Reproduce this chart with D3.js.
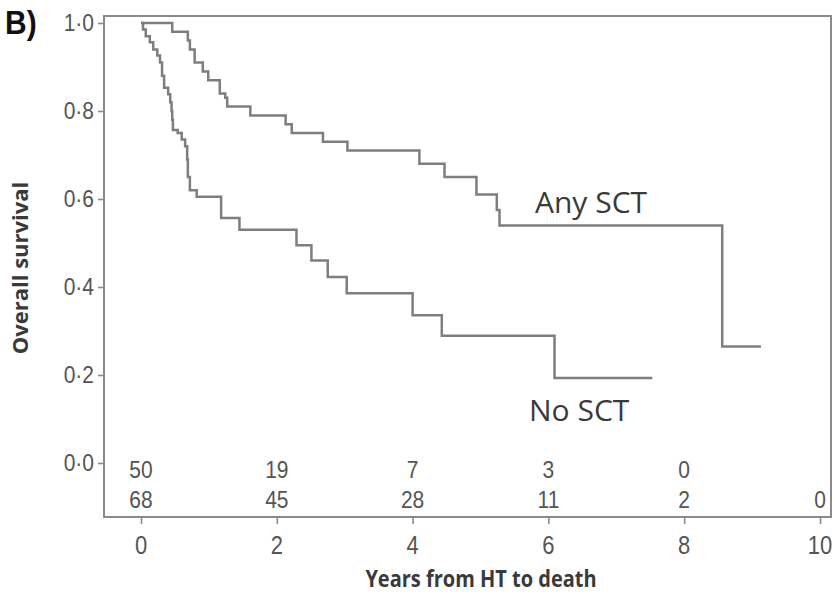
<!DOCTYPE html>
<html>
<head>
<meta charset="utf-8">
<script src="https://cdn.jsdelivr.net/npm/d3@7"></script>
<style>
  html, body { margin: 0; padding: 0; background: #fff; }
  svg { display: block; }
</style>
</head>
<body>
<svg id="chart" width="835" height="597"></svg>
<script>
// Kaplan–Meier overall survival, by stem cell transplant (SCT) status
const sctTimes = [0, 0.46, 0.69, 0.72, 0.79, 0.91, 0.99, 1.16, 1.24, 1.27, 1.61, 2.13, 2.22, 2.68, 3.04, 4.10, 4.47, 4.94, 5.24, 5.28, 8.56, 9.13];
const sctSurv  = [1.0, 0.98, 0.96, 0.94, 0.91, 0.89, 0.87, 0.84, 0.83, 0.81, 0.79, 0.77, 0.75, 0.73, 0.71, 0.68, 0.65, 0.61, 0.575, 0.54, 0.265, 0.265];

const noSctTimes = [0, 0.03, 0.07, 0.13, 0.18, 0.24, 0.28, 0.31, 0.34, 0.40, 0.43, 0.45, 0.46, 0.47, 0.54, 0.60, 0.65, 0.68, 0.69, 0.72, 0.82, 1.18, 1.45, 2.29, 2.51, 2.75, 3.03, 4.00, 4.43, 6.09, 7.53];
const noSctSurv  = [1.0, 0.985, 0.97, 0.956, 0.94, 0.926, 0.91, 0.88, 0.853, 0.838, 0.82, 0.80, 0.78, 0.757, 0.75, 0.735, 0.72, 0.69, 0.65, 0.62, 0.605, 0.557, 0.53, 0.495, 0.46, 0.423, 0.386, 0.336, 0.289, 0.193, 0.193];

// Numbers at risk
const riskTimes = [0, 2, 4, 6, 8, 10];
const riskSct   = ["50", "19", "7", "3", "0"];
const riskNoSct = ["68", "45", "28", "11", "2", "0"];

const xTicks = [0, 2, 4, 6, 8, 10];
const yTicks = [0, 0.2, 0.4, 0.6, 0.8, 1.0];
const yTickLabels = ["0·0", "0·2", "0·4", "0·6", "0·8", "1·0"];

const svg = d3.select("#chart");
const frame = { left: 104, top: 16, right: 831, bottom: 517 };

const x = d3.scaleLinear().domain([0, 10]).range([141, 820]);
const y = d3.scaleLinear().domain([0, 1]).range([463, 23]);

const axisColor = "#8a8a8a";
const lineColor = "#7e7e7e";
const textColor = "#3a3a3a";
const arial = "'Liberation Sans', Arial, sans-serif";
const sans = "'Open Sans', sans-serif";

// text with a slightly taller-than-normal glyph shape
function label(px, py, str, opts) {
  const o = Object.assign({ size: 20, family: arial, weight: "normal", anchor: "start",
                            fill: "#555", sy: 1.15, rotate: 0 }, opts);
  return svg.append("text")
    .attr("transform", `translate(${px},${py}) rotate(${o.rotate}) scale(1,${o.sy})`)
    .attr("text-anchor", o.anchor)
    .attr("fill", o.fill)
    .style("font-family", o.family)
    .style("font-weight", o.weight)
    .style("font-size", o.size + "px")
    .text(str);
}

// plot frame
svg.append("rect")
  .attr("x", frame.left).attr("y", frame.top)
  .attr("width", frame.right - frame.left)
  .attr("height", frame.bottom - frame.top)
  .attr("fill", "none").attr("stroke", axisColor).attr("stroke-width", 2);

// y axis ticks (labels drawn separately so they can be stretched)
const yAxis = d3.axisLeft(y).tickValues(yTicks).tickFormat("").tickSize(6);
const gy = svg.append("g").attr("transform", `translate(${frame.left},0)`).call(yAxis);
gy.select(".domain").remove();
gy.selectAll("line").attr("stroke", axisColor).attr("stroke-width", 1.6);
yTicks.forEach((v, i) => label(94, y(v) + 7.5, yTickLabels[i], { size: 21, anchor: "end" }));

// x axis ticks
const xAxis = d3.axisBottom(x).tickValues(xTicks).tickFormat("").tickSize(7);
const gx = svg.append("g").attr("transform", `translate(0,${frame.bottom})`).call(xAxis);
gx.select(".domain").remove();
gx.selectAll("line").attr("stroke", axisColor).attr("stroke-width", 1.6);
xTicks.forEach(v => label(x(v), 554, String(v), { size: 22, anchor: "middle", sy: 1.2 }));

// survival step curves
const step = d3.line().x(d => x(d[0])).y(d => y(d[1])).curve(d3.curveStepAfter);
const curves = [
  d3.zip(sctTimes, sctSurv),
  d3.zip(noSctTimes, noSctSurv)
];
svg.selectAll("path.km").data(curves).join("path")
  .attr("class", "km")
  .attr("d", step)
  .attr("fill", "none")
  .attr("stroke", lineColor)
  .attr("stroke-width", 2.5);

// curve labels
label(535, 213, "Any SCT", { size: 30, family: sans, fill: textColor, sy: 1.0 });
label(529, 421, "No SCT", { size: 30, family: sans, fill: textColor, sy: 1.0 });

// numbers at risk
riskSct.forEach((d, i) => label(x(riskTimes[i]), 478, d, { size: 21, anchor: "middle", sy: 1.18 }));
riskNoSct.forEach((d, i) => label(x(riskTimes[i]), 508, d, { size: 21, anchor: "middle", sy: 1.18 }));

// axis titles
label(28, 268, "Overall survival", { size: 22, family: sans, weight: "bold", anchor: "middle",
                                     fill: textColor, rotate: -90, sy: 1.0 });
label(481, 587, "Years from HT to death", { size: 20, family: sans, weight: "bold", anchor: "middle",
                                            fill: textColor, sy: 1.12 });

// panel letter
label(5, 34, "B)", { size: 30, weight: "bold", fill: "#111", sy: 1.12 });
</script>
</body>
</html>
